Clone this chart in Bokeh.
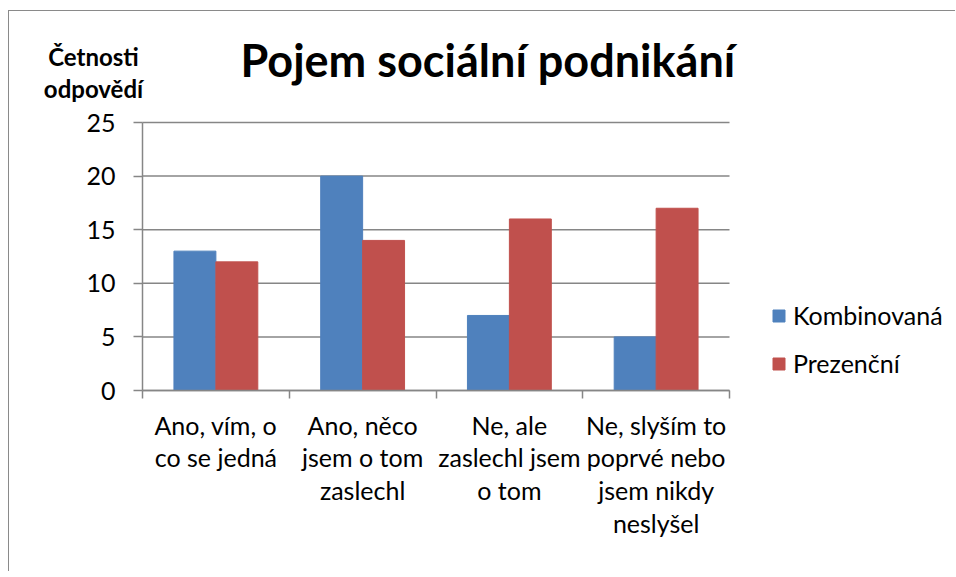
from bokeh.plotting import figure
from bokeh.models import (ColumnDataSource, FixedTicker, LinearAxis, Range1d,
                          Legend, LegendItem, Label)
from bokeh.embed import file_html
from bokeh.resources import INLINE

# ---- data ----
categories = ["Ano, vím, o\nco se jedná",
              "Ano, něco\njsem o tom\nzaslechl",
              "Ne, ale\nzaslechl jsem\no tom",
              "Ne, slyším to\npoprvé nebo\njsem nikdy\nneslyšel"]
series_names = ["Kombinovaná", "Prezenční"]
kombinovana = [13, 20, 7, 5]
prezencni = [12, 14, 16, 17]
y_ticks = [0, 5, 10, 15, 20, 25]
title_text = "Pojem sociální podnikání"
y_title = "Četnosti\nodpovědí"

colors = ["#4F81BD", "#C0504D"]
FONT = "Lato"
GRID = "#868686"

n = len(categories)
y_max = y_ticks[-1]
bar_w = 1 / 3.5
centers = [i + 0.5 for i in range(n)]

# ---- layout (pixels inside the canvas) ----
W, H = 946, 560                 # canvas = frame
plot_left, plot_right = 133, 720  # where x = 0 and x = n fall
plot_top, plot_bottom = 111, 379  # where y = y_max and y = 0 fall
ux = (plot_right - plot_left) / n
uy = (plot_bottom - plot_top) / y_max
x_range = Range1d(-plot_left / ux, n + (W - plot_right) / ux)
y_range = Range1d(-(H - plot_bottom) / uy, y_max + plot_top / uy)

p = figure(output_backend="svg", toolbar_location=None,
           x_range=x_range, y_range=y_range,
           x_axis_location=None, y_axis_location=None,
           frame_width=W, frame_height=H,
           min_border=0, min_border_left=0, min_border_right=0,
           min_border_top=0, min_border_bottom=0)
p.styles = {"border-left": "1px solid #8a8a8a", "border-top": "1px solid #8a8a8a",
            "margin-top": "10px", "margin-left": "8px"}
p.outline_line_color = None
p.background_fill_color = "white"
p.border_fill_color = "white"
p.xgrid.visible = False
p.ygrid.visible = False

# horizontal gridlines across the category span
p.segment(x0=[0] * len(y_ticks), x1=[n] * len(y_ticks), y0=y_ticks, y1=y_ticks,
          line_color=GRID, line_width=1.5)

src_k = ColumnDataSource(dict(x=[c - bar_w / 2 for c in centers], top=kombinovana))
src_p = ColumnDataSource(dict(x=[c + bar_w / 2 for c in centers], top=prezencni))
rk = p.vbar(x="x", top="top", width=bar_w, source=src_k, fill_color=colors[0],
            line_color=colors[0])
rp = p.vbar(x="x", top="top", width=bar_w, source=src_p, fill_color=colors[1],
            line_color=colors[1])

# y axis
yax = LinearAxis(ticker=FixedTicker(ticks=y_ticks, minor_ticks=[]),
                 fixed_location=0, bounds=(0, y_max))
yax.axis_line_color = GRID
yax.axis_line_width = 1.5
yax.major_tick_line_color = GRID
yax.major_tick_line_width = 1.5
yax.major_tick_out = 9
yax.major_tick_in = 0
yax.minor_tick_line_color = None
yax.major_label_standoff = 18
yax.major_label_text_font = FONT
yax.major_label_text_font_size = "25px"
yax.major_label_text_color = "black"
p.add_layout(yax, "left")

# x axis: labels at centres, boundary ticks as minor ticks
xax = LinearAxis(ticker=FixedTicker(ticks=centers, minor_ticks=list(range(n + 1))),
                 fixed_location=0, bounds=(0, n))
xax.axis_line_color = GRID
xax.axis_line_width = 1.5
xax.major_tick_line_color = None
xax.major_tick_out = 0
xax.major_tick_in = 0
xax.minor_tick_line_color = GRID
xax.minor_tick_line_width = 1.5
xax.minor_tick_out = 8
xax.minor_tick_in = 0
xax.major_label_overrides = {c: lab for c, lab in zip(centers, categories)}
xax.major_label_standoff = 11
xax.major_label_text_font = FONT
xax.major_label_text_font_size = "25px"
xax.major_label_text_line_height = 1.09
xax.major_label_text_color = "black"
p.add_layout(xax, "below")

# titles (screen units from the canvas bottom-left)
p.add_layout(Label(x=231, y=H - 48, x_units="screen", y_units="screen",
                   text=title_text, text_font=FONT, text_font_style="bold",
                   text_font_size="45px", text_align="left",
                   text_baseline="middle", text_color="black"))
p.add_layout(Label(x=84, y=H - 61, x_units="screen", y_units="screen",
                   text=y_title, text_font=FONT, text_font_style="bold",
                   text_font_size="24px", text_align="center",
                   text_baseline="middle", text_color="black",
                   text_line_height=1.12))

legend = Legend(items=[LegendItem(label=series_names[0], renderers=[rk]),
                       LegendItem(label=series_names[1], renderers=[rp])],
                location=(plot_right + 42, H - plot_bottom + 12))
legend.glyph_width = 15
legend.glyph_height = 15
legend.label_standoff = 7
legend.spacing = 18
legend.padding = 0
legend.margin = 0
legend.border_line_color = None
legend.background_fill_alpha = 0
legend.label_text_font = FONT
legend.label_text_font_size = "25px"
legend.label_text_color = "black"
p.add_layout(legend, "center")

open("out.html", "w").write(file_html(p, INLINE))
